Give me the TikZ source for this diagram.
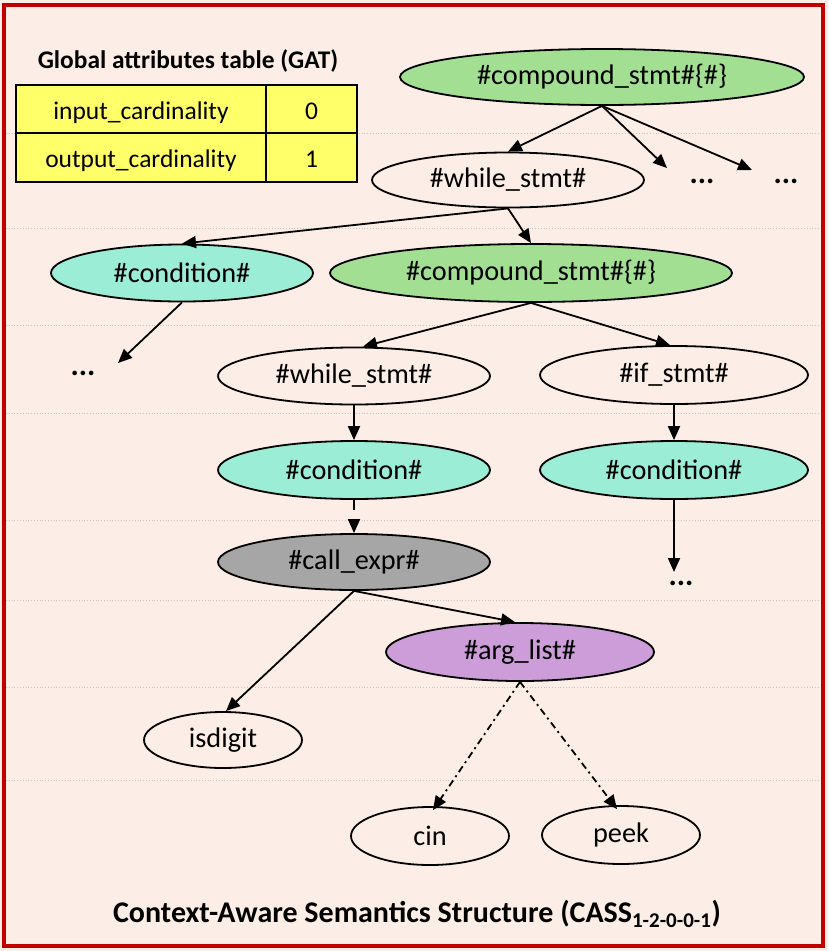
\documentclass[tikz,border=0pt]{standalone}
\usepackage{fontspec}
\setmainfont{Carlito}
\usetikzlibrary{shapes.geometric,arrows.meta}

\definecolor{pagebg}{HTML}{FCEEE6}
\definecolor{frame}{HTML}{C00000}
\definecolor{rule}{HTML}{C9C3BE}
\definecolor{leaf}{HTML}{A3DF93}
\definecolor{cond}{HTML}{9BEDD5}
\definecolor{callgray}{HTML}{A6A6A6}
\definecolor{argpurple}{HTML}{CC9DD8}
\definecolor{gatyellow}{HTML}{FFFF6A}

\tikzset{
  pix/.style={x=1pt,y=-1pt},
  ast/.style={ellipse, draw=black, line width=1.8pt, inner sep=0pt,
    font=\fontsize{28.3}{32}\selectfont, text=black},
  plain/.style={ast, fill=pagebg},
  compound/.style={ast, fill=leaf},
  condnode/.style={ast, fill=cond},
  callnode/.style={ast, fill=callgray},
  argnode/.style={ast, fill=argpurple},
  more/.style={font=\fontsize{31}{32}\selectfont\bfseries, inner sep=0pt},
  edge/.style={line width=1.8pt, -{Triangle[length=14pt,width=12pt]}},
  dashedge/.style={edge, dash pattern=on 10pt off 9pt},
  dotdashedge/.style={edge, dash pattern=on 7pt off 4pt on 2pt off 4pt},
  cell/.style={rectangle, draw=black, line width=1.8pt, fill=gatyellow,
    inner sep=0pt, text height=20pt, text depth=0pt,
    font=\fontsize{25.5}{28}\selectfont},
  level/.style={draw=rule, line width=0.8pt, dotted},
}

\begin{document}
\begin{tikzpicture}[pix]
  % canvas and frame
  \fill[pagebg] (0,0) rectangle (828,951);
  \useasboundingbox (0,0) rectangle (828,951);

  % dotted level guides
  \foreach \yy in {133,228,325,413,520,600,687,780}
    \draw[level] (6,\yy) -- (821,\yy);

  \draw[frame, line width=3.5pt] (4,5) rectangle (823,946);

  % global attributes table
  \node[font=\fontsize{25.4}{28}\selectfont\bfseries] (gattitle) at (188,61) {Global attributes table (GAT)};
  \node[cell, minimum width=250pt, minimum height=48pt] (inname) at (141,109) {input\_cardinality};
  \node[cell, minimum width=91pt, minimum height=48pt] (inval) at (311.5,109) {0};
  \node[cell, minimum width=250pt, minimum height=49pt] (outname) at (141,157.5) {output\_cardinality};
  \node[cell, minimum width=91pt, minimum height=49pt] (outval) at (311.5,157.5) {1};

  % syntax tree nodes
  \node[compound, minimum width=404pt, minimum height=56pt] (cmp1) at (602,77) {\#compound\_stmt\#\{\#\}};
  \node[plain, minimum width=272pt, minimum height=55pt] (wh1) at (508,180) {\#while\_stmt\#};
  \node[more] (more1) at (702,181) {...};
  \node[more] (more2) at (786,181) {...};

  \node[condnode, minimum width=262pt, minimum height=57pt] (cond1) at (182,273) {\#condition\#};
  \node[compound, minimum width=402pt, minimum height=58pt] (cmp2) at (531,273) {\#compound\_stmt\#\{\#\}};
  \node[more] (more3) at (83,373) {...};

  \node[plain, minimum width=272pt, minimum height=57pt] (wh2) at (354,376) {\#while\_stmt\#};
  \node[plain, minimum width=268pt, minimum height=58pt] (ifs) at (674,375) {\#if\_stmt\#};

  \node[condnode, minimum width=272pt, minimum height=58pt] (cond2) at (354,470) {\#condition\#};
  \node[condnode, minimum width=268pt, minimum height=58pt] (cond3) at (674,470) {\#condition\#};

  \node[callnode, minimum width=272pt, minimum height=56pt] (call) at (354,562) {\#call\_expr\#};
  \node[more] (more4) at (681,583) {...};

  \node[argnode, minimum width=268pt, minimum height=58pt] (args) at (520,652) {\#arg\_list\#};
  \node[plain, minimum width=158pt, minimum height=56pt] (isd) at (223,740) {isdigit};
  \node[plain, minimum width=158pt, minimum height=58pt] (cin) at (430,836) {cin};
  \node[plain, minimum width=158pt, minimum height=58pt] (peek) at (621,835) {peek};

  % loose ends pointing at the elided subtrees
  \coordinate (to1) at (667,168);
  \coordinate (to2) at (752,170);
  \coordinate (to3) at (118,363);
  \coordinate (to4) at (674,572);

  % connectors
  \draw[edge] (cmp1.south) -- (wh1.north);
  \draw[edge] (cmp1.south) -- (to1);
  \draw[edge] (cmp1.south) -- (to2);
  \draw[edge] (wh1.south) -- (cond1.north);
  \draw[edge] (wh1.south) -- (cmp2.north);
  \draw[edge] (cond1.south) -- (to3);
  \draw[edge] (cmp2.south) -- ([xshift=9pt]wh2.north);
  \draw[edge] (cmp2.south) -- ([xshift=-4pt]ifs.north);
  \draw[edge] (wh2.south) -- (cond2.north);
  \draw[edge] (ifs.south) -- (cond3.north);
  \draw[dashedge] (cond2.south) -- (call.north);
  \draw[edge] (cond3.south) -- (to4);
  \draw[edge] (call.south) -- ([xshift=3pt]isd.north);
  \draw[edge] (call.south) -- ([xshift=-5pt]args.north);
  \draw[dotdashedge] (args.south) -- ([xshift=3pt,yshift=-4pt]cin.north);
  \draw[dotdashedge] (args.south) -- ([xshift=-4pt,yshift=-4pt]peek.north);

  % caption
  \node[font=\fontsize{30}{34}\selectfont\bfseries] (caption) at (417,914)
    {Context-Aware Semantics Structure (CASS\textsubscript{1-2-0-0-1})};
\end{tikzpicture}
\end{document}
